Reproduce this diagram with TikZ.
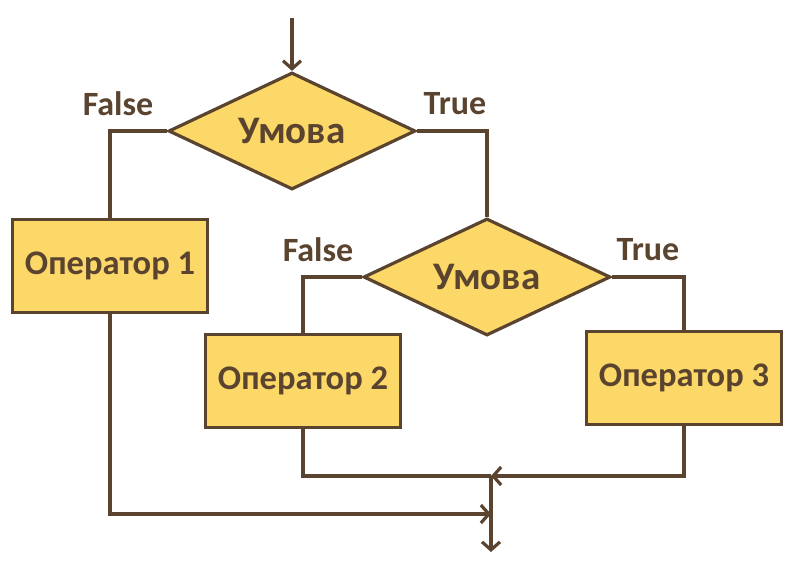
\documentclass[tikz,border=0pt]{standalone}
\usepackage{fontspec}
\setmainfont{Carlito}
\usetikzlibrary{shapes.geometric,arrows.meta}
\definecolor{fillY}{HTML}{FCD868}
\definecolor{lineB}{HTML}{5A4430}
\begin{document}
\begin{tikzpicture}[x=1pt,y=-1pt,
  every node/.style={text=lineB},
  cond/.style={diamond,shape aspect=2.1,draw=lineB,fill=fillY,line width=3.2pt,inner sep=0pt,minimum width=247pt,minimum height=117pt,font=\bfseries\fontsize{39}{42}\selectfont},
  opbox/.style={rectangle,draw=lineB,fill=fillY,line width=3.2pt,minimum width=195pt,minimum height=93pt,font=\bfseries\fontsize{34.5}{38}\selectfont},
  lbl/.style={font=\bfseries\fontsize{34}{38}\selectfont},
  conn/.style={draw=lineB,line width=3.2pt},
  arr/.style={conn,-{Straight Barb[length=8pt,width=18pt,line width=3.2pt]}}]
\useasboundingbox (0,0) rectangle (800,579);
\node[cond] (d1) at (292,131) {Умова};
\node[cond] (d2) at (487,277) {Умова};
\node[opbox] (b1) at (110,266) {Оператор 1};
\node[opbox] (b2) at (303,381) {Оператор 2};
\node[opbox] (b3) at (684,378) {Оператор 3};
\node[lbl] (f1) at (118,104) {False};
\node[lbl] (t1) at (455,104) {True};
\node[lbl] (f2) at (318,250) {False};
\node[lbl] (t2) at (648,250) {True};
\coordinate (start) at (292,18);
\coordinate (m1) at (491,476);
\coordinate (m2) at (491,514);
\coordinate (stop) at (491,552);
\draw[arr] (start) -- (d1.north);
\draw[conn] (d1.west) -| (b1.north);
\draw[conn] (d1.east) -| (d2.north);
\draw[conn] (d2.west) -| (b2.north);
\draw[conn] (d2.east) -| (b3.north);
\draw[conn] (b2.south) |- (m1);
\draw[arr] (b3.south) |- (m1);
\draw[arr] (b1.south) |- (m2);
\draw[arr] (m1) -- (stop);
\end{tikzpicture}
\end{document}
